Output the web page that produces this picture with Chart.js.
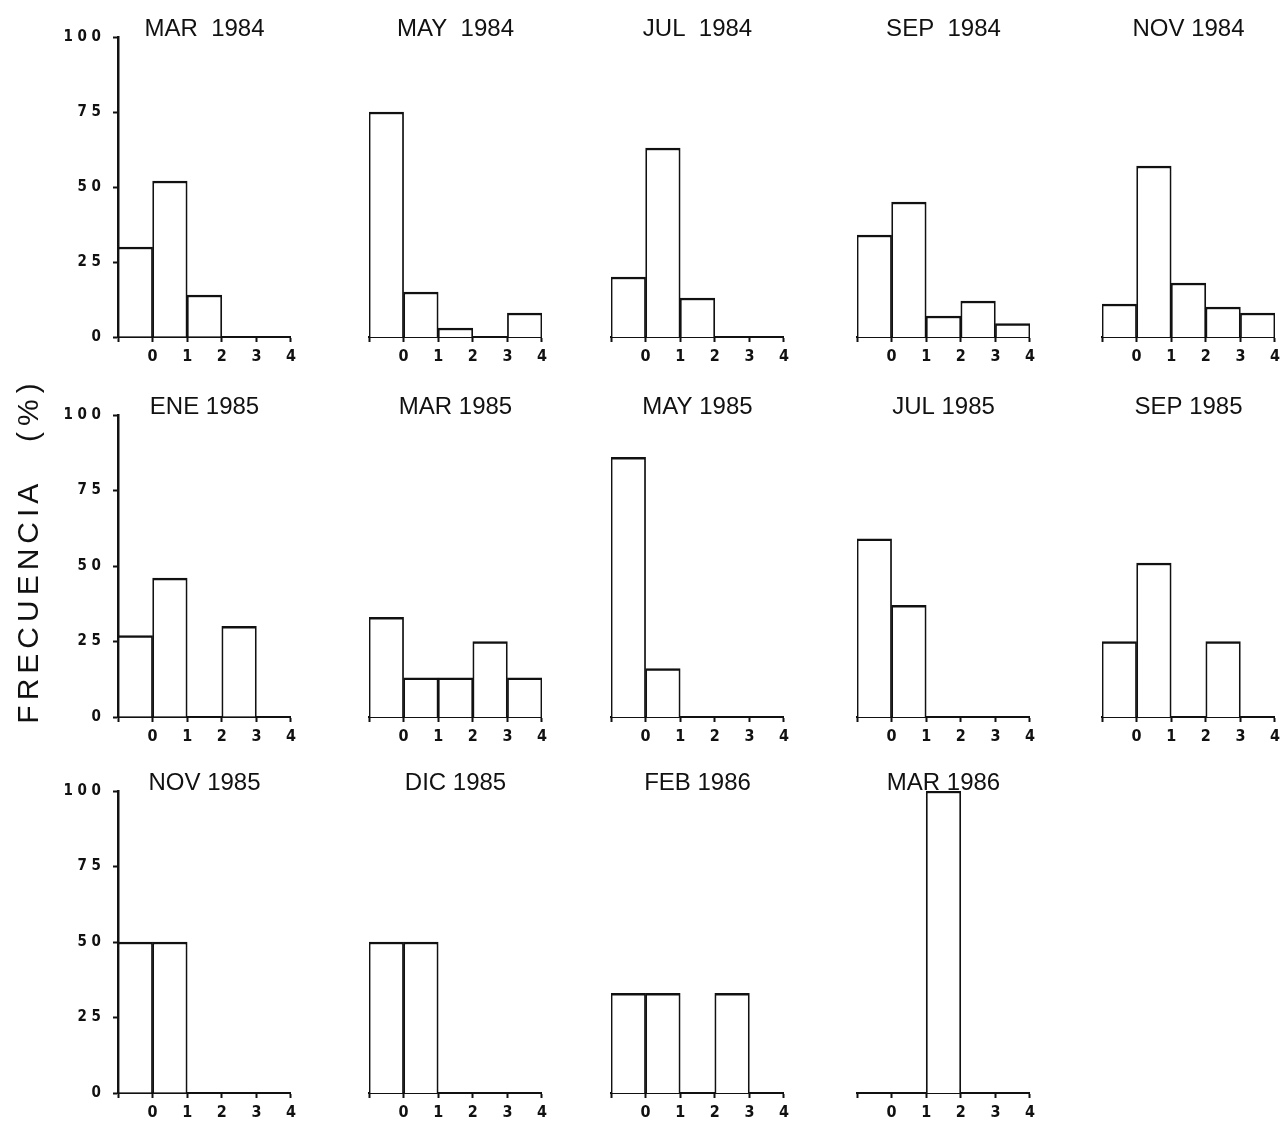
<!DOCTYPE html>
<html>
<head>
<meta charset="utf-8">
<script src="https://cdn.jsdelivr.net/npm/chart.js@4.4.0/dist/chart.umd.min.js"></script>
<style>
  html, body { margin: 0; padding: 0; background: #fff; }
  #wrap { position: relative; width: 1281px; height: 1127px; overflow: hidden; background: #fff; }
  #wrap canvas { position: absolute; }
</style>
</head>
<body>
<div id="wrap"></div>
<script>
// ============== Data
const titles = [
  'MAR  1984', 'MAY  1984', 'JUL  1984', 'SEP  1984', 'NOV 1984',
  'ENE 1985', 'MAR 1985', 'MAY 1985', 'JUL 1985', 'SEP 1985',
  'NOV 1985', 'DIC 1985', 'FEB 1986', 'MAR 1986'
];
const bins = [-0.5, 0.5, 1.5, 2.5, 3.5];   // centre of each class (edges at -1..4)
const xTickLabels = ['0', '1', '2', '3', '4'];
const yTickLabels = ['0', '2 5', '5 0', '7 5', '1 0 0'];
const yTitle = '   F\u2006R\u2006E\u2006C\u2006U\u2006E\u2006N\u2006C\u2006I\u2006A     (\u2009%\u2009)';

const mar1984 = [30, 52, 14, 0, 0];
const may1984 = [75, 15, 3, 0, 8];
const jul1984 = [20, 63, 13, 0, 0];
const sep1984 = [34, 45, 7, 12, 4.5];
const nov1984 = [11, 57, 18, 10, 8];
const ene1985 = [27, 46, 0, 30, 0];
const mar1985 = [33, 13, 13, 25, 13];
const may1985 = [86, 16, 0, 0, 0];
const jul1985 = [59, 37, 0, 0, 0];
const sep1985 = [25, 51, 0, 25, 0];
const nov1985 = [50, 50, 0, 0, 0];
const dic1985 = [50, 50, 0, 0, 0];
const feb1986 = [33, 33, 0, 33, 0];
const mar1986 = [0, 0, 100, 0, 0];

const series = [
  mar1984, may1984, jul1984, sep1984, nov1984,
  ene1985, mar1985, may1985, jul1985, sep1985,
  nov1985, dic1985, feb1986, mar1986
];

// ============== Layout
const colLeft = [118, 369, 611, 857, 1102];
const rowTop = [37, 415, 791];
const rowHeight = [300, 302, 302];
const plotWidth = 175;
const ink = '#111';
const fontFamily = "'Liberation Sans', Arial, sans-serif";
const narrowFamily = "'Liberation Sans Narrow', 'DejaVu Sans Condensed', 'Liberation Sans', Arial, sans-serif";

const createPanel = (i) => {
  const row = Math.floor(i / 5);
  const col = i % 5;
  const isLeft = col === 0;
  const padL = isLeft ? 118 : 20;
  const padT = 45, padR = 8, padB = 35;

  const canvas = document.createElement('canvas');
  canvas.width = padL + plotWidth + padR;
  canvas.height = padT + rowHeight[row] + padB;
  canvas.style.left = (colLeft[col] - padL) + 'px';
  canvas.style.top = (rowTop[row] - padT) + 'px';
  document.getElementById('wrap').appendChild(canvas);

  const data = {
    datasets: [{
      data: bins.map((x, k) => ({ x: x, y: series[i][k] })),
      backgroundColor: '#fff',
      borderColor: ink,
      borderWidth: { top: 2.5, left: 1.75, right: 1.75, bottom: 0 },
      borderSkipped: 'start',
      barPercentage: 1,
      categoryPercentage: 1
    }]
  };

  const config = {
    type: 'bar',
    data: data,
    options: {
      responsive: false,
      animation: false,
      events: [],
      layout: {
        padding: { left: isLeft ? 0 : padL, right: padR, top: padT - 14.4, bottom: padB - 30 }
      },
      plugins: {
        legend: { display: false },
        tooltip: { enabled: false },
        title: {
          display: true,
          text: titles[i],
          fullSize: false,
          color: ink,
          padding: 0,
          font: { family: fontFamily, size: 24, weight: 'normal', lineHeight: 0.6 }
        }
      },
      scales: {
        x: {
          type: 'linear',
          offset: false,
          min: -1,
          max: 4,
          afterFit: (s) => { s.height = 30; },
          ticks: {
            stepSize: 1,
            autoSkip: false,
            maxRotation: 0,
            padding: 5,
            color: ink,
            font: { family: narrowFamily, size: 16, weight: 'bold' },
            callback: (v) => v >= 0 ? xTickLabels[v] : ''
          },
          grid: { offset: false, drawOnChartArea: false, drawTicks: true, tickLength: 5, tickColor: ink, tickWidth: 2 },
          border: { display: true, color: ink, width: 2 }
        },
        y: {
          display: isLeft,
          min: 0,
          max: 100,
          afterFit: isLeft ? (s) => { s.width = 118; } : undefined,
          ticks: {
            stepSize: 25,
            padding: 12,
            color: ink,
            font: { family: narrowFamily, size: 15, weight: 'bold' },
            callback: (v) => yTickLabels[v / 25]
          },
          grid: { drawOnChartArea: false, drawTicks: true, tickLength: 5, tickColor: ink, tickWidth: 2 },
          border: { display: true, color: ink, width: 2.5 },
          title: {
            display: row === 1,
            text: yTitle,
            color: ink,
            padding: { top: 12, bottom: 0 },
            font: { family: fontFamily, size: 30, weight: 'normal', lineHeight: 1.2 }
          }
        }
      }
    }
  };

  new Chart(canvas.getContext('2d'), config);
};

document.addEventListener('DOMContentLoaded', () => {
  titles.forEach((t, i) => createPanel(i));
});
</script>
</body>
</html>
